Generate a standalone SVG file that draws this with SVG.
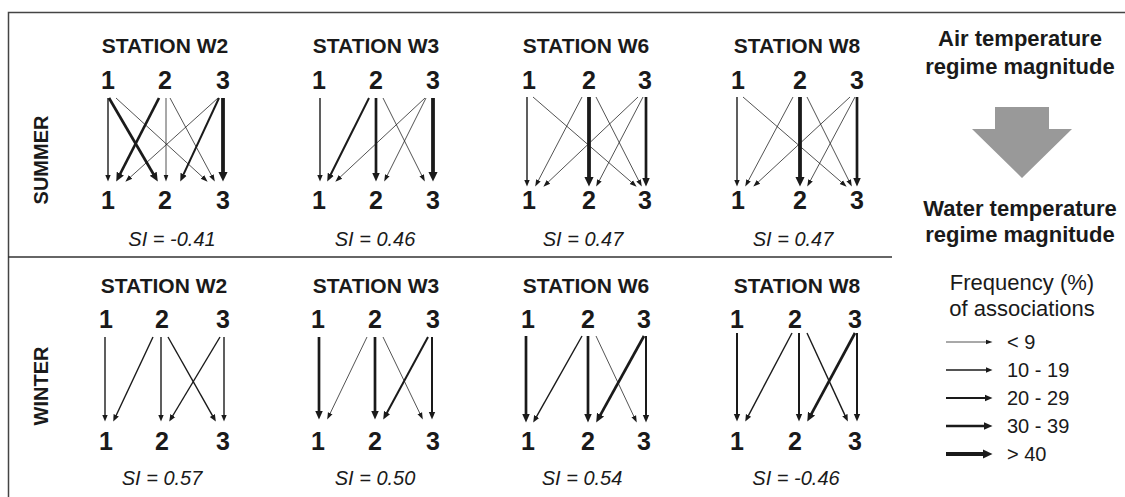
<svg xmlns="http://www.w3.org/2000/svg" width="1125" height="497" viewBox="0 0 1125 497">
<style>
text{font-family:"Liberation Sans",Arial,sans-serif;fill:#1a1a1a}
.st{font-size:21px;font-weight:bold;text-anchor:middle}
.dg{font-size:25px;font-weight:bold;text-anchor:middle}
.si{font-size:20px;font-style:italic;text-anchor:middle}
.se{font-size:20px;font-weight:bold;text-anchor:middle}
.hd{font-size:22px;font-weight:bold;text-anchor:middle}
.lg{font-size:22px;text-anchor:middle}
.lv{font-size:20px}
line{stroke:#1a1a1a;fill:none}
.w1{stroke-width:0.75;marker-end:url(#m1)}
.w2{stroke-width:1.4;marker-end:url(#m2)}
.w3{stroke-width:2;marker-end:url(#m3)}
.w4{stroke-width:2.7;marker-end:url(#m4)}
.w5{stroke-width:3.8;marker-end:url(#m5)}
</style>
<defs>
<marker id="m1" viewBox="0 -4 8 8" refX="0.5" refY="0" markerWidth="8" markerHeight="8" markerUnits="userSpaceOnUse" orient="auto"><path d="M0,-2.5 L7,0 L0,2.5 Z" fill="#1a1a1a"/></marker>
<marker id="m2" viewBox="0 -4 8 8" refX="0.5" refY="0" markerWidth="8" markerHeight="8" markerUnits="userSpaceOnUse" orient="auto"><path d="M0,-2.9 L7,0 L0,2.9 Z" fill="#1a1a1a"/></marker>
<marker id="m3" viewBox="0 -4 9 8" refX="0.5" refY="0" markerWidth="9" markerHeight="8" markerUnits="userSpaceOnUse" orient="auto"><path d="M0,-3.4 L8,0 L0,3.4 Z" fill="#1a1a1a"/></marker>
<marker id="m4" viewBox="0 -5 10 10" refX="0.5" refY="0" markerWidth="10" markerHeight="10" markerUnits="userSpaceOnUse" orient="auto"><path d="M0,-4 L9,0 L0,4 Z" fill="#1a1a1a"/></marker>
<marker id="m5" viewBox="0 -5 11 10" refX="0.5" refY="0" markerWidth="11" markerHeight="10" markerUnits="userSpaceOnUse" orient="auto"><path d="M0,-4.8 L10,0 L0,4.8 Z" fill="#1a1a1a"/></marker>
</defs>
<rect width="1125" height="497" fill="#ffffff"/>
<g id="frame" fill="none" stroke="#444" stroke-width="1.5">
<rect x="8.5" y="12.5" width="1130" height="500"/>
<line x1="8" y1="257" x2="892" y2="257" style="stroke:#333;stroke-width:1.5"/>
</g>
<g id="seasons">
<text class="se" transform="translate(48,160) rotate(-90)">SUMMER</text>
<text class="se" transform="translate(48,386) rotate(-90)">WINTER</text>
</g>
<g id="summer-w2">
<text class="st" x="165" y="53">STATION W2</text>
<text class="dg" x="108" y="89">1</text><text class="dg" x="165" y="89">2</text><text class="dg" x="223" y="89">3</text>
<text class="dg" x="108" y="209">1</text><text class="dg" x="165" y="209">2</text><text class="dg" x="223" y="209">3</text>
<text class="si" x="172" y="246">SI = -0.41</text>
</g>
<g id="summer-w3">
<text class="st" x="376" y="53">STATION W3</text>
<text class="dg" x="319" y="89">1</text><text class="dg" x="376" y="89">2</text><text class="dg" x="433" y="89">3</text>
<text class="dg" x="319" y="209">1</text><text class="dg" x="376" y="209">2</text><text class="dg" x="433" y="209">3</text>
<text class="si" x="375" y="246">SI = 0.46</text>
</g>
<g id="summer-w6">
<text class="st" x="586" y="53">STATION W6</text>
<text class="dg" x="529" y="89">1</text><text class="dg" x="589" y="89">2</text><text class="dg" x="645" y="89">3</text>
<text class="dg" x="529" y="209">1</text><text class="dg" x="589" y="209">2</text><text class="dg" x="645" y="209">3</text>
<text class="si" x="583" y="246">SI = 0.47</text>
</g>
<g id="summer-w8">
<text class="st" x="797" y="53">STATION W8</text>
<text class="dg" x="738" y="89">1</text><text class="dg" x="800" y="89">2</text><text class="dg" x="857" y="89">3</text>
<text class="dg" x="738" y="209">1</text><text class="dg" x="800" y="209">2</text><text class="dg" x="857" y="209">3</text>
<text class="si" x="793" y="246">SI = 0.47</text>
</g>
<g id="winter-w2">
<text class="st" x="164" y="293">STATION W2</text>
<text class="dg" x="106" y="328">1</text><text class="dg" x="162" y="328">2</text><text class="dg" x="223" y="328">3</text>
<text class="dg" x="106" y="450">1</text><text class="dg" x="162" y="450">2</text><text class="dg" x="223" y="450">3</text>
<text class="si" x="162" y="485">SI = 0.57</text>
</g>
<g id="winter-w3">
<text class="st" x="376" y="293">STATION W3</text>
<text class="dg" x="318" y="328">1</text><text class="dg" x="375" y="328">2</text><text class="dg" x="433" y="328">3</text>
<text class="dg" x="318" y="450">1</text><text class="dg" x="375" y="450">2</text><text class="dg" x="433" y="450">3</text>
<text class="si" x="375" y="485">SI = 0.50</text>
</g>
<g id="winter-w6">
<text class="st" x="586" y="293">STATION W6</text>
<text class="dg" x="528" y="328">1</text><text class="dg" x="588" y="328">2</text><text class="dg" x="644" y="328">3</text>
<text class="dg" x="528" y="450">1</text><text class="dg" x="588" y="450">2</text><text class="dg" x="644" y="450">3</text>
<text class="si" x="582" y="485">SI = 0.54</text>
</g>
<g id="winter-w8">
<text class="st" x="797" y="293">STATION W8</text>
<text class="dg" x="737" y="328">1</text><text class="dg" x="795" y="328">2</text><text class="dg" x="855" y="328">3</text>
<text class="dg" x="737" y="450">1</text><text class="dg" x="795" y="450">2</text><text class="dg" x="855" y="450">3</text>
<text class="si" x="796" y="485">SI = -0.46</text>
</g>
<g id="regime-key">
<text class="hd" x="1020" y="46">Air temperature</text>
<text class="hd" x="1020" y="74">regime magnitude</text>
<polygon points="995,107 1049,107 1049,129 1072,129 1022,178 972,129 995,129" fill="#999999"/>
<text class="hd" x="1020" y="216">Water temperature</text>
<text class="hd" x="1020" y="242">regime magnitude</text>
</g>
<g id="legend">
<text class="lg" x="1022" y="290">Frequency (%)</text>
<text class="lg" x="1022" y="316">of associations</text>
<line class="w1" x1="946" y1="342" x2="986" y2="342"/>
<line class="w2" x1="946" y1="370" x2="986" y2="370"/>
<line class="w3" x1="946" y1="398" x2="985" y2="398"/>
<line class="w4" x1="946" y1="426" x2="984" y2="426"/>
<line class="w5" x1="946" y1="454" x2="983" y2="454"/>
<text class="lv" x="1007" y="349">&lt; 9</text>
<text class="lv" x="1007" y="377">10 - 19</text>
<text class="lv" x="1007" y="405">20 - 29</text>
<text class="lv" x="1007" y="433">30 - 39</text>
<text class="lv" x="1007" y="461">&gt; 40</text>
</g>
<g id="connectors">
<!-- summer W2 -->
<line class="w2" x1="108" y1="98" x2="108" y2="175"/>
<line class="w4" x1="109" y1="98" x2="153.5" y2="174.2"/>
<line class="w1" x1="116" y1="98" x2="202.8" y2="177.3"/>
<line class="w4" x1="159" y1="98" x2="120.1" y2="174"/>
<line class="w1" x1="166" y1="98" x2="166" y2="175"/>
<line class="w1" x1="170" y1="98" x2="211.7" y2="175.8"/>
<line class="w1" x1="218" y1="98" x2="130.2" y2="177.3"/>
<line class="w3" x1="219" y1="98" x2="183.4" y2="174.7"/>
<line class="w5" x1="223" y1="98" x2="223" y2="172"/>
<!-- summer W3 -->
<line class="w2" x1="320" y1="98" x2="320" y2="175"/>
<line class="w3" x1="369" y1="98" x2="330.6" y2="174.8"/>
<line class="w1" x1="425" y1="98" x2="340.1" y2="177.2"/>
<line class="w4" x1="376" y1="98" x2="376" y2="173"/>
<line class="w1" x1="426" y1="98" x2="387.1" y2="175.7"/>
<line class="w1" x1="383" y1="98" x2="421.9" y2="175.7"/>
<line class="w5" x1="433" y1="98" x2="433" y2="172"/>
<!-- summer W6 -->
<line class="w2" x1="527" y1="97" x2="527" y2="180"/>
<line class="w1" x1="533" y1="97" x2="631.7" y2="182.4"/>
<line class="w1" x1="582" y1="97" x2="538.2" y2="180.8"/>
<line class="w5" x1="589" y1="97" x2="589" y2="177"/>
<line class="w1" x1="596" y1="97" x2="638.8" y2="180.8"/>
<line class="w1" x1="638" y1="97" x2="548.1" y2="182.2"/>
<line class="w1" x1="643" y1="97" x2="599.2" y2="180.8"/>
<line class="w4" x1="646" y1="97" x2="646" y2="178"/>
<!-- summer W8 -->
<line class="w2" x1="737" y1="97" x2="737" y2="180"/>
<line class="w1" x1="743" y1="97" x2="841.7" y2="182.4"/>
<line class="w1" x1="793" y1="97" x2="748.3" y2="180.8"/>
<line class="w5" x1="800" y1="97" x2="800" y2="177"/>
<line class="w1" x1="807" y1="97" x2="848.9" y2="180.7"/>
<line class="w1" x1="850" y1="97" x2="758.1" y2="182.2"/>
<line class="w1" x1="855" y1="97" x2="810.3" y2="180.8"/>
<line class="w4" x1="857" y1="97" x2="857" y2="178"/>
<!-- winter W2 -->
<line class="w2" x1="105" y1="337" x2="105" y2="415"/>
<line class="w2" x1="153" y1="337" x2="116" y2="415.7"/>
<line class="w2" x1="161" y1="337" x2="161" y2="415"/>
<line class="w2" x1="168" y1="337" x2="212.6" y2="415.9"/>
<line class="w2" x1="220" y1="337" x2="172.6" y2="416"/>
<line class="w2" x1="224" y1="337" x2="224" y2="415"/>
<!-- winter W3 -->
<line class="w4" x1="319" y1="337" x2="319" y2="411"/>
<line class="w1" x1="367" y1="337" x2="330" y2="413.7"/>
<line class="w4" x1="375" y1="337" x2="375" y2="411"/>
<line class="w1" x1="383" y1="337" x2="420" y2="413.7"/>
<line class="w3" x1="428" y1="337" x2="386.8" y2="413"/>
<line class="w3" x1="432" y1="337" x2="432" y2="412"/>
<!-- winter W6 -->
<line class="w4" x1="526" y1="336" x2="526" y2="414"/>
<line class="w2" x1="582" y1="336" x2="536.4" y2="416.9"/>
<line class="w4" x1="588" y1="336" x2="588" y2="414"/>
<line class="w1" x1="596" y1="336" x2="634" y2="416.7"/>
<line class="w4" x1="644" y1="336" x2="600.3" y2="415.1"/>
<line class="w3" x1="646" y1="336" x2="646" y2="415"/>
<!-- winter W8 -->
<line class="w3" x1="737" y1="333" x2="737" y2="414"/>
<line class="w2" x1="792" y1="333" x2="748.3" y2="415.8"/>
<line class="w3" x1="799" y1="333" x2="799" y2="414"/>
<line class="w2" x1="807" y1="333" x2="845.1" y2="415.6"/>
<line class="w4" x1="855" y1="333" x2="811.3" y2="414.1"/>
<line class="w3" x1="857" y1="333" x2="857" y2="414"/>
</g>
</svg>
